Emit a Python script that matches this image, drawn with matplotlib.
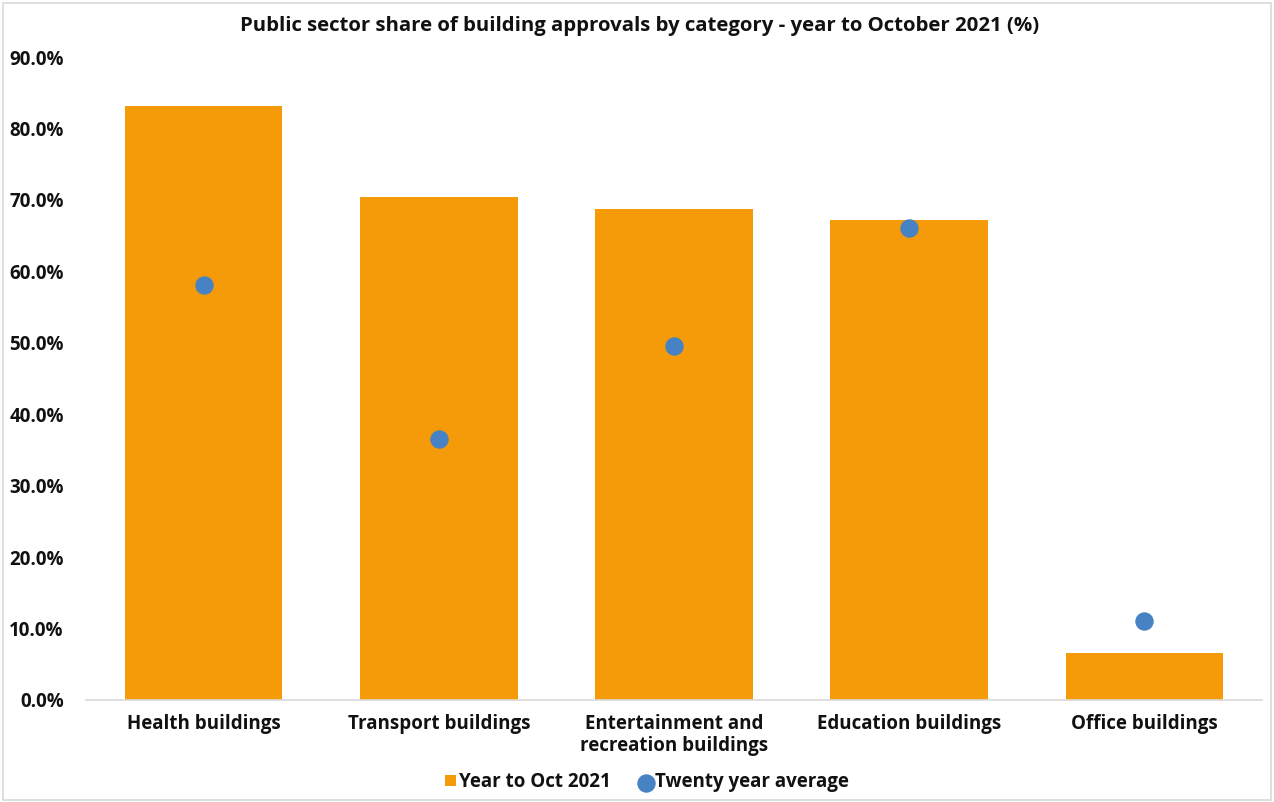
import numpy as np
import matplotlib.pyplot as plt
from matplotlib.patches import Rectangle

categories = ['Health buildings', 'Transport buildings', 'Entertainment and\nrecreation buildings',
              'Education buildings', 'Office buildings']
year_to_oct = [83.1, 70.4, 68.7, 67.2, 6.6]
twenty_avg = [58.1, 36.6, 49.6, 66.1, 11.0]
yticks = [0, 10, 20, 30, 40, 50, 60, 70, 80, 90]

plt.rcParams['font.family'] = ['Open Sans', 'DejaVu Sans']
plt.rcParams['font.weight'] = 'bold'

fig = plt.figure(figsize=(12.74, 8.02), dpi=100)
ax = fig.add_axes([0.0675, 0.1272, 0.9231, 0.8017])

x = np.arange(len(categories))
bars = ax.bar(x, year_to_oct, width=0.67, color='#F59A08', label='Year to Oct 2021', zorder=2)
dots = ax.scatter(x, twenty_avg, s=150, color='#4682C4', label='Twenty year average', zorder=3)

ax.set_xlim(-0.5, len(categories) - 0.5)
ax.set_ylim(0, 90)
ax.set_yticks(yticks)
ax.set_yticklabels(['%.1f%%' % v for v in yticks], fontsize=13.5, fontweight='bold')
ax.set_xticks(x)
ax.set_xticklabels(categories, fontsize=13.5, fontweight='bold', linespacing=1.12)
ax.tick_params(axis='both', length=0, colors='#111111')
ax.tick_params(axis='x', pad=10)
ax.tick_params(axis='y', pad=16)
for s in ['top', 'right', 'left']:
    ax.spines[s].set_visible(False)
ax.spines['bottom'].set_color('#D9D9D9')
ax.spines['bottom'].set_linewidth(1.2)

fig.text(0.502, 0.968, 'Public sector share of building approvals by category - year to October 2021 (%)',
         ha='center', va='center', fontsize=14.7, fontweight='bold', color='#111111')

leg = fig.legend(handles=[bars, dots], loc='center', bbox_to_anchor=(0.508, 0.025), ncol=2,
                 frameon=False, fontsize=13.5, handlelength=0.55, handleheight=0.55,
                 handletextpad=0.2, columnspacing=1.6, markerscale=1.0)
for t in leg.get_texts():
    t.set_fontweight('bold')
    t.set_color('#111111')

fig.patches.append(Rectangle((0.002, 0.002), 0.996, 0.994, transform=fig.transFigure,
                             fill=False, edgecolor='#D9D9D9', linewidth=1.2))

fig.savefig('out.png', dpi=100)
